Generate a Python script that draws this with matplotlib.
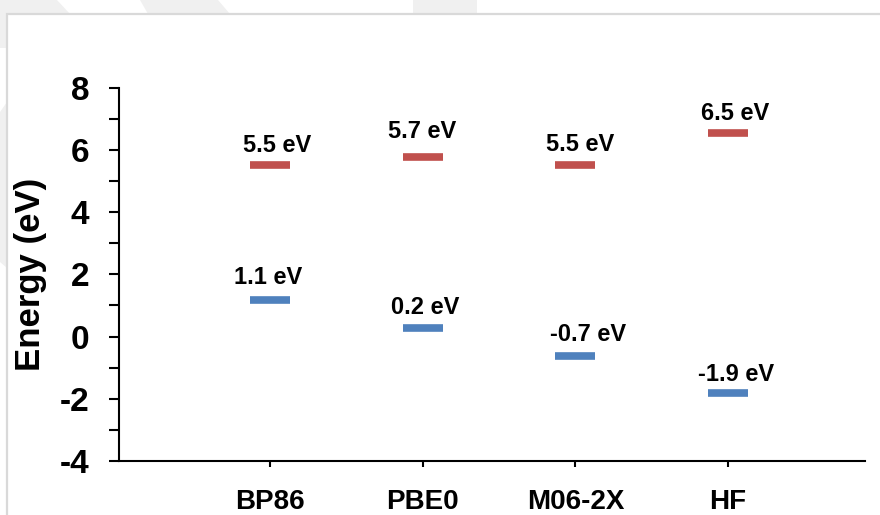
import matplotlib

matplotlib.use("Agg")
import matplotlib.pyplot as plt
from matplotlib.patches import Polygon, Rectangle

# Frontier orbital energies per functional
methods = ["BP86", "PBE0", "M06-2X", "HF"]
lumo = [5.52, 5.78, 5.52, 6.55]
homo = [1.19, 0.29, -0.61, -1.83]
lumo_labels = ["5.5 eV", "5.7 eV", "5.5 eV", "6.5 eV"]
homo_labels = ["1.1 eV", "0.2 eV", "-0.7 eV", "-1.9 eV"]

# hand-placed label nudges (pixels) like the text boxes in the original
lumo_dx = [7.5, -1, 5, 6.5]
lumo_dy = [12.7, 19, 14.3, 13]
homo_dx = [-1.7, 2.5, 13, 8]
homo_dy = [15.7, 14, 15, 12.3]

W, H = 880, 515
RED = "#C0504D"
BLUE = "#4F81BD"
plt.rcParams["font.family"] = ["Liberation Sans", "DejaVu Sans"]
plt.rcParams["font.weight"] = "bold"
plt.rcParams["axes.unicode_minus"] = False

fig = plt.figure(figsize=(W / 100, H / 100), dpi=100)


def px(x, y):
    # pixel coords (origin top-left) -> figure fraction
    return (x / W, 1 - y / H)


# faint watermark stripes outside the chart frame
shapes = [
    [(0, 0), (57, 0), (70, 14), (0, 14)],
    [(140, 0), (218, 0), (230, 14), (148, 14)],
    [(413, 0), (477, 0), (477, 14), (413, 14)],
    [(0, 0), (7, 0), (7, 48), (0, 48)],
    [(0, 112), (7, 102), (7, 268), (0, 262)],
]
for s in shapes:
    fig.patches.append(Polygon([px(*p) for p in s], closed=True, transform=fig.transFigure,
                               facecolor="#F0F0F0", edgecolor="none", zorder=-2))
x0, y0 = px(7, 520)
x1, y1 = px(890, 14)
fig.patches.append(Rectangle((x0, y0), x1 - x0, y1 - y0, transform=fig.transFigure,
                             facecolor="white", edgecolor="#D9D9D9", linewidth=1.6, zorder=-1))

ax = fig.add_axes([119 / W, 1 - 461 / H, 746 / W, (461 - 87.7) / H])
ax.patch.set_alpha(0)

xs = list(range(1, len(methods) + 1))
half = 0.131
ax.hlines(lumo, [x - half for x in xs], [x + half for x in xs], colors=RED, linewidth=5.5, capstyle="butt")
ax.hlines(homo, [x - half for x in xs], [x + half for x in xs], colors=BLUE, linewidth=5.5, capstyle="butt")

for x, v, t, dx, dy in zip(xs, lumo, lumo_labels, lumo_dx, lumo_dy):
    ax.annotate(t, (x, v), xytext=(dx, dy), textcoords="offset pixels", ha="center", va="baseline",
                fontsize=17, fontweight="bold")
for x, v, t, dx, dy in zip(xs, homo, homo_labels, homo_dx, homo_dy):
    ax.annotate(t, (x, v), xytext=(dx, dy), textcoords="offset pixels", ha="center", va="baseline",
                fontsize=17, fontweight="bold")

ax.set_xlim(0.011, 4.896)
ax.set_ylim(-4, 8)
ax.set_yticks(range(-4, 9, 2))
ax.set_yticks(range(-3, 8, 2), minor=True)
ax.set_xticks(xs)
ax.set_xticklabels(methods)

for side in ["top", "right"]:
    ax.spines[side].set_visible(False)
for side in ["left", "bottom"]:
    ax.spines[side].set_linewidth(1.5)

ax.tick_params(axis="y", which="both", direction="out", length=7.5, width=1.5, labelsize=24, pad=14)
ax.tick_params(axis="x", direction="out", length=4.5, width=1.5, labelsize=20, pad=16)
for lab in ax.get_xticklabels() + ax.get_yticklabels():
    lab.set_fontweight("bold")

ax.set_ylabel("Energy (eV)", fontsize=25, fontweight="bold", va="center")
ax.yaxis.set_label_coords(-0.119, 0.5)

fig.savefig("out.png", dpi=100)
